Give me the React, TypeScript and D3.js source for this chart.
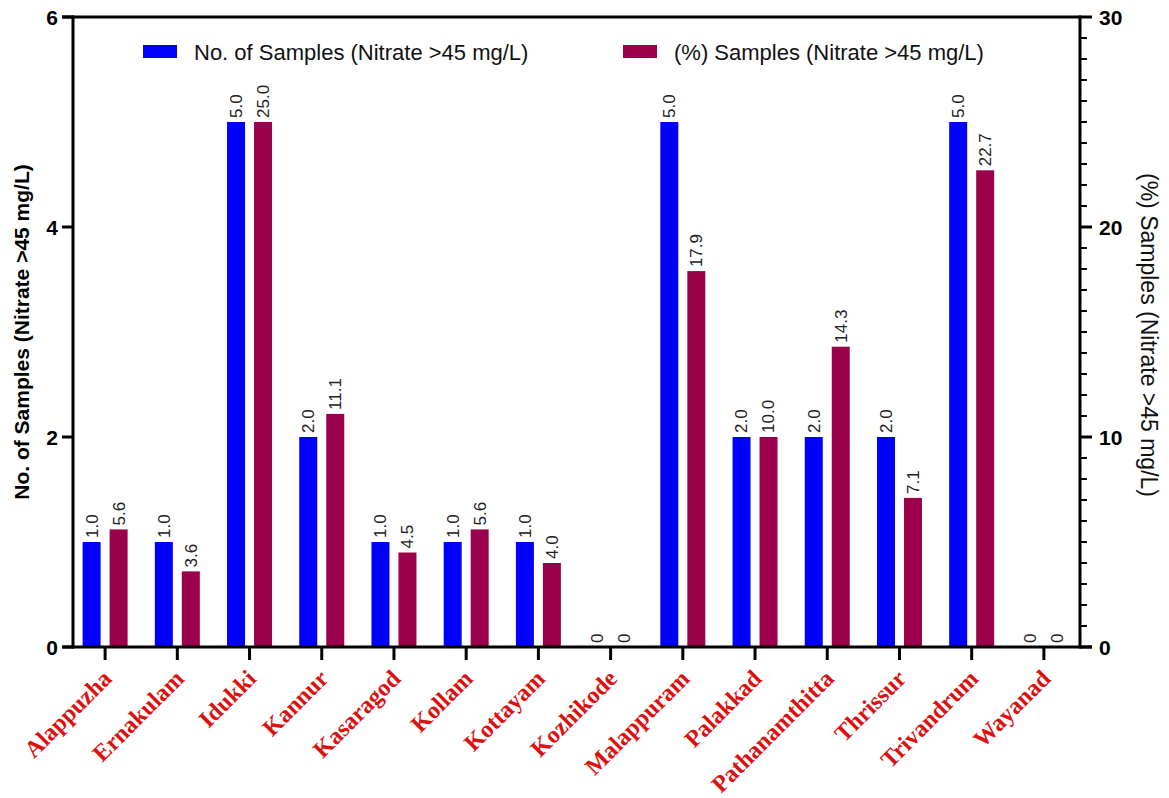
import React, { useEffect, useRef } from 'react';
import * as d3 from 'd3';

const districts = [
  'Alappuzha', 'Ernakulam', 'Idukki', 'Kannur', 'Kasaragod', 'Kollam', 'Kottayam',
  'Kozhikode', 'Malappuram', 'Palakkad', 'Pathanamthitta', 'Thrissur', 'Trivandrum', 'Wayanad',
];
const sampleCounts = [1, 1, 5, 2, 1, 1, 1, 0, 5, 2, 2, 2, 5, 0];
const samplePercents = [5.6, 3.6, 25.0, 11.1, 4.5, 5.6, 4.0, 0, 17.9, 10.0, 14.3, 7.1, 22.7, 0];
const leftTicks = [0, 2, 4, 6];
const rightTicks = [0, 10, 20, 30];

const seriesNames = ['No. of Samples (Nitrate >45 mg/L)', '(%) Samples (Nitrate >45 mg/L)'];
const BLUE = '#0000ff';
const MAROON = '#9c004c';
const WIDTH = 1169;
const HEIGHT = 798;

const App: React.FC = () => {
  const svgRef = useRef<SVGSVGElement>(null);

  useEffect(() => {
    if (!svgRef.current) return;
    const svg = d3.select(svgRef.current);
    svg.selectAll('*').remove();

    const left = 73, right = 1080, top = 17, bottom = 647;
    const sans = '"Liberation Sans", Arial, sans-serif';

    const x = d3.scaleBand<string>().domain(districts).range([69, right]);
    const yL = d3.scaleLinear().domain([0, 6]).range([bottom, top]);
    const yR = d3.scaleLinear().domain([0, 30]).range([bottom, top]);

    const barW = 18, gap = 9;
    const g = svg.append('g');

    // bars + value labels
    districts.forEach((d, i) => {
      const cx = x(d)! + x.bandwidth() / 2;
      const bars = [
        { v: sampleCounts[i], y: yL(sampleCounts[i]), x0: cx - gap / 2 - barW, color: BLUE, label: sampleCounts[i] === 0 ? '0' : sampleCounts[i].toFixed(1) },
        { v: samplePercents[i], y: yR(samplePercents[i]), x0: cx + gap / 2, color: MAROON, label: samplePercents[i] === 0 ? '0' : samplePercents[i].toFixed(1) },
      ];
      bars.forEach((b) => {
        if (b.v > 0) {
          g.append('rect')
            .attr('x', b.x0)
            .attr('y', b.y)
            .attr('width', barW)
            .attr('height', bottom - b.y)
            .attr('fill', b.color);
        }
        const lx = b.x0 + barW / 2;
        const ly = b.y - 4;
        g.append('text')
          .attr('transform', `translate(${lx},${ly}) rotate(-90)`)
          .attr('dy', '0.35em')
          .attr('font-family', sans)
          .attr('font-size', 17)
          .attr('fill', '#222')
          .text(b.label);
      });
    });

    // frame lines
    const stroke = '#000';
    g.append('line').attr('x1', 62).attr('x2', right).attr('y1', top).attr('y2', top).attr('stroke', stroke).attr('stroke-width', 3);
    g.append('line').attr('x1', 62).attr('x2', right + 12).attr('y1', bottom).attr('y2', bottom).attr('stroke', stroke).attr('stroke-width', 3);
    g.append('line').attr('x1', left).attr('x2', left).attr('y1', top - 1.5).attr('y2', bottom + 1.5).attr('stroke', stroke).attr('stroke-width', 3);
    g.append('line').attr('x1', right).attr('x2', right).attr('y1', top - 1.5).attr('y2', bottom + 1.5).attr('stroke', stroke).attr('stroke-width', 3);

    // left ticks
    leftTicks.forEach((t) => {
      g.append('line').attr('x1', 62).attr('x2', left).attr('y1', yL(t)).attr('y2', yL(t)).attr('stroke', stroke).attr('stroke-width', 3);
      g.append('text')
        .attr('x', 58)
        .attr('y', yL(t))
        .attr('dy', '0.36em')
        .attr('text-anchor', 'end')
        .attr('font-family', sans)
        .attr('font-weight', 'bold')
        .attr('font-size', 21)
        .text(t);
    });

    // right ticks (minor every 1)
    d3.range(0, 31, 1).forEach((t) => {
      const major = t % 10 === 0;
      g.append('line')
        .attr('x1', right)
        .attr('x2', right + (major ? 12 : 7))
        .attr('y1', yR(t))
        .attr('y2', yR(t))
        .attr('stroke', stroke)
        .attr('stroke-width', major ? 3 : 2);
    });
    rightTicks.forEach((t) => {
      g.append('text')
        .attr('x', 1099)
        .attr('y', yR(t))
        .attr('dy', '0.36em')
        .attr('font-family', sans)
        .attr('font-weight', 'bold')
        .attr('font-size', 21)
        .text(t);
    });

    // bottom ticks + category labels
    districts.forEach((d) => {
      const cx = x(d)! + x.bandwidth() / 2;
      g.append('line').attr('x1', cx).attr('x2', cx).attr('y1', bottom).attr('y2', bottom + 13).attr('stroke', stroke).attr('stroke-width', 3);
      g.append('text')
        .attr('transform', `translate(${cx + 8},${bottom + 33}) rotate(-45)`)
        .attr('text-anchor', 'end')
        .attr('font-family', '"Liberation Serif", "Times New Roman", serif')
        .attr('font-weight', 'bold')
        .attr('font-size', 24)
        .attr('fill', '#dd1010')
        .text(d);
    });

    // axis titles
    g.append('text')
      .attr('transform', `translate(29,${(top + bottom) / 2}) rotate(-90)`)
      .attr('text-anchor', 'middle')
      .attr('font-family', sans)
      .attr('font-weight', 'bold')
      .attr('font-size', 21)
      .text(seriesNames[0]);
    g.append('text')
      .attr('transform', `translate(1141,${(top + bottom) / 2 + 3}) rotate(90)`)
      .attr('text-anchor', 'middle')
      .attr('font-family', sans)
      .attr('font-size', 23)
      .attr('fill', '#111')
      .text(seriesNames[1]);

    // legend
    const legend = [
      { name: seriesNames[0], color: BLUE, x: 143 },
      { name: seriesNames[1], color: MAROON, x: 623 },
    ];
    legend.forEach((l) => {
      g.append('rect').attr('x', l.x).attr('y', 45).attr('width', 34).attr('height', 13).attr('fill', l.color);
      g.append('text')
        .attr('x', l.x + 51)
        .attr('y', 52)
        .attr('dy', '0.35em')
        .attr('font-family', sans)
        .attr('font-size', 22)
        .attr('fill', '#111')
        .text(l.name);
    });
  }, []);

  return (
    <svg
      ref={svgRef}
      width={WIDTH}
      height={HEIGHT}
      style={{ position: 'absolute', left: 0, top: 0, background: '#fff' }}
    />
  );
};

export default App;
